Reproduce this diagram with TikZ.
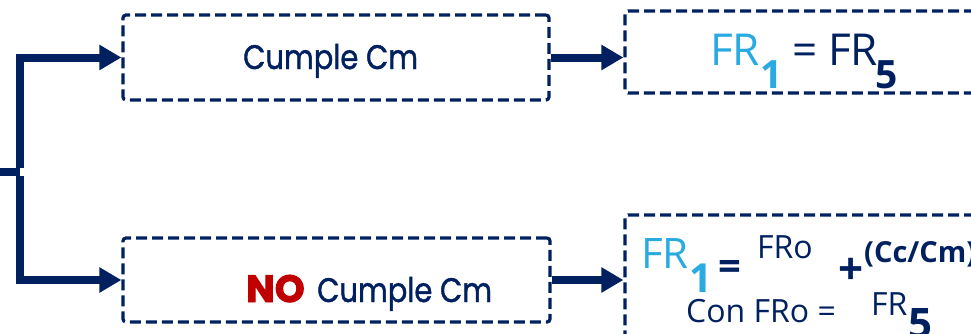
\documentclass[tikz,border=0pt]{standalone}
\usepackage{fontspec}
\setmainfont{Poppins}[FakeStretch=0.85, FakeBold=1.2]
\newfontfamily\nofont{Poppins}[BoldFeatures={FakeBold=2.5}]
\newfontfamily\frfont{Open Sans}
\usetikzlibrary{arrows.meta}
\definecolor{navy}{RGB}{0,32,96}
\definecolor{lblue}{RGB}{41,171,226}
\definecolor{nored}{RGB}{192,0,0}
\tikzset{
  dbox/.style={draw=navy, line width=3.2pt, dash pattern=on 11pt off 5pt, rounded corners=3pt, inner sep=0pt, text=navy},
  conn/.style={draw=navy, line width=8pt, -{Triangle[length=22pt,width=24pt]}},
  stub/.style={draw=navy, line width=8pt},
  txt/.style={inner sep=0pt, anchor=base west, text=navy},
}
\newcommand{\fs}[1]{\fontsize{#1}{#1}\selectfont}
\begin{document}
\begin{tikzpicture}[x=1pt,y=-1pt]
\useasboundingbox (0,0) rectangle (971,333);
\clip (0,0) rectangle (971,333);
\node[dbox, minimum width=426pt, minimum height=85pt] (b1) at (336,57.5) {};
\node[dbox, minimum width=427pt, minimum height=84pt] (b2) at (336.5,280) {};
\node[dbox, minimum width=385pt, minimum height=82pt] (b3) at (817.5,52) {};
\node[dbox, minimum width=385pt, minimum height=185pt] (b4) at (817.5,307.5) {};
\coordinate (start) at (-5,172);
\coordinate (split) at (20,172);
\draw[stub] (start) -- (split);
\draw[conn] ([yshift=4pt]split) |- (b1.west);
\draw[conn] ([yshift=-4pt]split) |- (b2.west);
\draw[conn] (b1.east) -- (b1.east -| b3.west);
\draw[conn] (b2.east) -- (b2.east -| b4.west);
% texts of the left boxes
\node[txt] (tc) at (243,69) {\fs{34}Cumple Cm};
\node[txt, text=nored] (no) at (246,302) {\nofont\fs{38}\bfseries NO};
\node[txt] (nc) at (317,302) {\fs{34}Cumple Cm};
% top-right formula
\node[txt, text=lblue] (f1) at (710,65) {\frfont\fs{44}FR};
\node[txt, text=lblue] (f1s) at (760,88) {\frfont\fs{39}\bfseries 1};
\node[txt] (f1e) at (792,65) {\frfont\fs{44}=};
\node[txt] (f5) at (828,65) {\frfont\fs{44}FR};
\node[txt] (f5s) at (875,88) {\frfont\fs{39}\bfseries 5};
% bottom-right formula
\node[txt, text=lblue] (g1) at (641,268) {\frfont\fs{42}FR};
\node[txt, text=lblue] (g1s) at (689,292) {\frfont\fs{40}\bfseries 1};
\node[txt] (ge) at (718,280) {\frfont\fs{40}\bfseries =};
\node[txt] (gfro) at (757,258) {\frfont\fs{32}FRo};
\node[txt] (gp) at (838,284) {\frfont\fs{44}\bfseries +};
\node[txt] (gcc) at (864,262) {\frfont\fs{29}\bfseries (Cc/Cm)};
\node[txt] (gcon) at (686,322) {\frfont\fs{32}Con FRo =};
\node[txt] (gfr) at (871,315) {\frfont\fs{32}FR};
\node[txt] (g5) at (908,338) {\frfont\fs{42}\bfseries 5};
\end{tikzpicture}
\end{document}
